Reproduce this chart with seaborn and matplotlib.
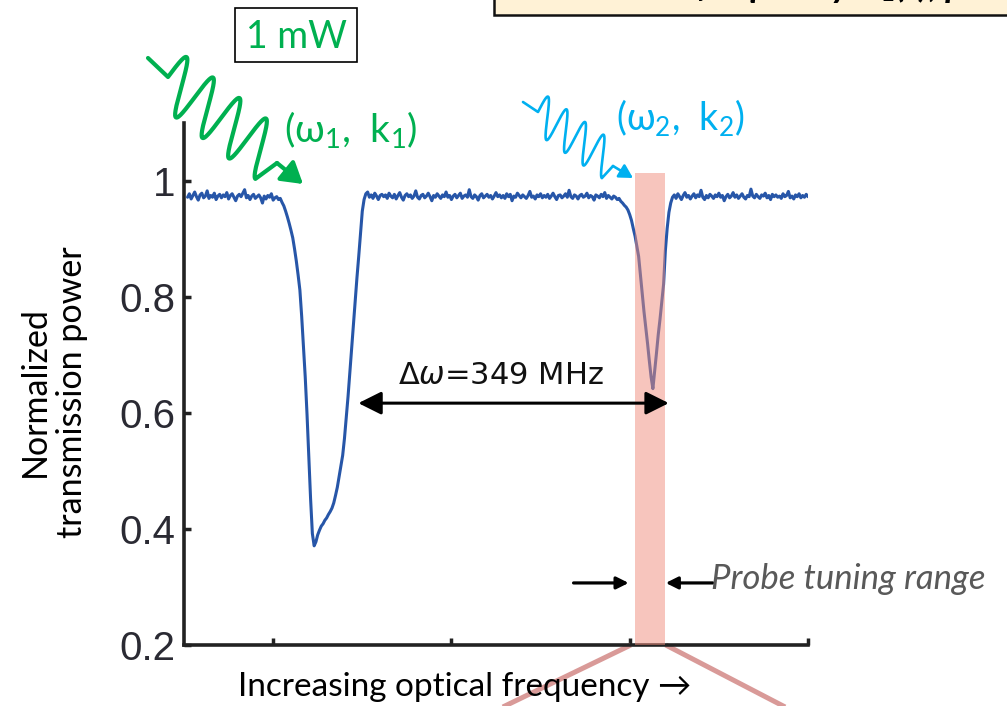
import numpy as np
import pandas as pd
import matplotlib
matplotlib.use("Agg")
import matplotlib.pyplot as plt
from matplotlib.patches import Rectangle, FancyArrowPatch
from matplotlib.lines import Line2D
import seaborn as sns

# ---- measured transmission sweep (arbitrary frequency units) ----
freq_start = -0.48
freq_step = 0.01
transmission = [
    0.972, 0.978, 0.969, 0.975, 0.981, 0.973, 0.967, 0.976, 0.979, 0.971,
    0.974, 0.983, 0.970, 0.975, 0.972, 0.979, 0.968, 0.974, 0.977, 0.971,
    0.976, 0.973, 0.980, 0.969, 0.975, 0.978, 0.972, 0.966, 0.974, 0.977,
    0.973, 0.979, 0.985, 0.971, 0.975, 0.968, 0.974, 0.977, 0.970, 0.973,
    0.976, 0.971, 0.962, 0.974, 0.969, 0.975, 0.972, 0.978, 0.967, 0.971,
    0.973, 0.968, 0.970, 0.963, 0.957, 0.948, 0.938, 0.927, 0.915, 0.902,
    0.883, 0.862, 0.838, 0.812, 0.767, 0.714, 0.662, 0.598, 0.523, 0.452,
    0.392, 0.371, 0.378, 0.390, 0.398, 0.405, 0.409, 0.415, 0.419, 0.425,
    0.430, 0.436, 0.445, 0.458, 0.472, 0.490, 0.508, 0.527, 0.556, 0.592,
    0.628, 0.668, 0.710, 0.752, 0.792, 0.833, 0.870, 0.910, 0.948, 0.968,
    0.978, 0.981, 0.972, 0.976, 0.970, 0.979, 0.974, 0.968, 0.975, 0.977,
    0.973, 0.976, 0.970, 0.979, 0.974, 0.971, 0.977, 0.969, 0.975, 0.980,
    0.972, 0.967, 0.975, 0.978, 0.973, 0.976, 0.970, 0.974, 0.983, 0.972,
    0.969, 0.975, 0.977, 0.971, 0.974, 0.979, 0.973, 0.966, 0.975, 0.972,
    0.978, 0.974, 0.970, 0.976, 0.973, 0.981, 0.972, 0.975, 0.968, 0.974,
    0.977, 0.971, 0.975, 0.979, 0.970, 0.974, 0.976, 0.972, 0.985, 0.973,
    0.970, 0.976, 0.973, 0.967, 0.975, 0.978, 0.971, 0.974, 0.977, 0.972,
    0.975, 0.969, 0.974, 0.980, 0.973, 0.976, 0.971, 0.975, 0.970, 0.978,
    0.973, 0.977, 0.966, 0.974, 0.972, 0.979, 0.975, 0.971, 0.976, 0.973,
    0.970, 0.975, 0.982, 0.972, 0.974, 0.969, 0.976, 0.973, 0.978, 0.971,
    0.975, 0.972, 0.977, 0.970, 0.974, 0.979, 0.973, 0.968, 0.975, 0.976,
    0.971, 0.974, 0.978, 0.972, 0.984, 0.973, 0.970, 0.976, 0.974, 0.969,
    0.975, 0.977, 0.972, 0.974, 0.979, 0.971, 0.975, 0.973, 0.967, 0.976,
    0.974, 0.971, 0.977, 0.973, 0.980, 0.970, 0.975, 0.972, 0.969, 0.974,
    0.972, 0.968, 0.970, 0.965, 0.962, 0.958, 0.955, 0.950, 0.942, 0.932,
    0.918, 0.905, 0.888, 0.870, 0.838, 0.806, 0.775, 0.748, 0.720, 0.690,
    0.662, 0.642, 0.672, 0.703, 0.735, 0.762, 0.792, 0.822, 0.880, 0.918,
    0.946, 0.962, 0.972, 0.976, 0.970, 0.978, 0.973, 0.968, 0.975, 0.980,
    0.972, 0.975, 0.969, 0.974, 0.978, 0.971, 0.976, 0.973, 0.984, 0.972,
    0.968, 0.975, 0.971, 0.977, 0.974, 0.970, 0.976, 0.973, 0.979, 0.972,
    0.975, 0.966, 0.973, 0.977, 0.971, 0.974, 0.980, 0.972, 0.976, 0.970,
    0.974, 0.978, 0.972, 0.969, 0.975, 0.973, 0.986, 0.974, 0.971, 0.977,
    0.973, 0.970, 0.976, 0.974, 0.979, 0.971, 0.975, 0.968, 0.977, 0.973,
    0.976, 0.972, 0.974, 0.970, 0.978, 0.973, 0.975, 0.982, 0.971, 0.974,
    0.969, 0.976, 0.973, 0.978, 0.971, 0.975, 0.972, 0.977, 0.973,
]

y_ticks = [0.2, 0.4, 0.6, 0.8, 1.0]
y_tick_labels = ["0.2", "0.4", "0.6", "0.8", "1"]
x_ticks = [0, 1, 2, 3]
x_limits = (-0.5, 3.0)
y_limits = (0.2, 1.1)

# probe tuning window and resonance splitting annotation
probe_lo, probe_hi, probe_top = 2.03, 2.20, 1.014
split_from, split_to, split_level = 0.478, 2.219, 0.617
split_label = "Δ$\\omega$=349 MHz"
pump_power_label = "1 mW"
pump_label = "(ω$_1$,  k$_1$)"
probe_label = "(ω$_2$,  k$_2$)"
range_label = "Probe tuning range"
x_label = "Increasing optical frequency →"
y_label = "Normalized\ntransmission power"
banner_label = "Probe frequency ω₂(t), power P₂(t), polarization"

freq = np.round(freq_start + freq_step * np.arange(len(transmission)), 3)
df = pd.DataFrame({"freq": freq, "transmission": transmission})

sns.set_theme(style="ticks")
plt.rcParams["font.family"] = ["Lato", "Noto Sans", "DejaVu Sans"]
plt.rcParams["mathtext.fontset"] = "custom"
plt.rcParams["mathtext.rm"] = "Lato"
plt.rcParams["mathtext.it"] = "Lato:italic"

W, H = 1007, 706
fig = plt.figure(figsize=(W / 100, H / 100), dpi=100)
fig.patch.set_facecolor("white")


def P(x, y):
    """pixel position (from top-left) -> figure fraction"""
    return (x / W, 1 - y / H)


ax = fig.add_axes([184 / W, 1 - 645 / H, (808 - 184) / W, (645 - 123) / H])
ax.set_facecolor("none")

TRACE = "#2756A8"
GREEN = "#00B050"
CYAN = "#00B0F0"
PINK = "#F08C7C"
PINK_LINE = "#D99A98"

sns.lineplot(data=df, x="freq", y="transmission", ax=ax, color=TRACE,
             lw=2.2, estimator=None, sort=False, zorder=3)

# probe tuning window
ax.add_patch(Rectangle((probe_lo, y_limits[0]), probe_hi - probe_lo,
                       probe_top - y_limits[0], facecolor=PINK, alpha=0.5,
                       edgecolor="none", zorder=4, clip_on=False))

ax.set_xlim(*x_limits)
ax.set_ylim(*y_limits)
ax.set_xticks(x_ticks)
ax.set_xticklabels([])
ax.set_yticks(y_ticks)
ax.set_yticklabels(y_tick_labels, family=["Liberation Sans", "DejaVu Sans"],
                   fontsize=29, color="#2a2a33")
ax.tick_params(axis="both", direction="in", length=5, width=2.5,
               color="#222222", pad=6)
ax.set_xlabel("")
ax.set_ylabel("")
for side in ("top", "right"):
    ax.spines[side].set_visible(False)
for side in ("left", "bottom"):
    ax.spines[side].set_linewidth(2.6)
    ax.spines[side].set_color("#222222")

# splitting arrow and label
ax.annotate("", xy=(split_to, split_level), xytext=(split_from, split_level),
            arrowprops=dict(arrowstyle="<|-|>,head_length=0.7,head_width=0.35",
                            mutation_scale=20, lw=2.2, color="black",
                            shrinkA=0, shrinkB=0), zorder=5)
fig.text(*P(501, 376), split_label, ha="center", va="center", fontsize=22,
         family=["DejaVu Sans"], math_fontfamily="dejavusans", color="#111111")

# probe tuning range arrows and label
arrow_kw = dict(arrowstyle="-|>,head_length=0.6,head_width=0.3",
                mutation_scale=12, lw=2.3, color="black", shrinkA=0, shrinkB=0)
ax.annotate("", xy=(1.994, 0.307), xytext=(1.685, 0.307), arrowprops=arrow_kw,
            annotation_clip=False)
ax.annotate("", xy=(2.202, 0.307), xytext=(2.466, 0.307), arrowprops=arrow_kw,
            annotation_clip=False)
fig.text(*P(711, 579), range_label, ha="left", va="center", fontsize=25,
         style="italic", color="#595959")

# zoom lines under the axis
for x0, x1 in ((2.006, 1.14), (2.202, 3.01)):
    ax.plot([x0, x1], [0.2, 0.071], color=PINK_LINE, lw=3.6,
            solid_capstyle="butt", clip_on=False, zorder=2)

# axis labels
fig.text(*P(465, 687), x_label, ha="center", va="center", fontsize=24,
         color="black")
fig.text(*P(53, 392), y_label, ha="center", va="center", rotation=90,
         fontsize=24.5, color="black", linespacing=1.2, multialignment="center")


# wavy photon arrows
def photon(lead, c0, step, amp, periods, tail, tip, color, lw, head, scale):
    t = np.linspace(0, periods, 400)
    cx = c0[0] + step[0] * t
    cy = c0[1] + step[1] * t
    s = np.sin(2 * np.pi * t)
    xs = np.concatenate([[lead[0]], cx + amp[0] * s, [tail[0]]])
    ys = np.concatenate([[lead[1]], cy + amp[1] * s, [tail[1]]])
    fig.add_artist(Line2D(xs / W, 1 - ys / H, transform=fig.transFigure,
                          color=color, lw=lw, solid_joinstyle="round",
                          solid_capstyle="round"))
    fig.add_artist(FancyArrowPatch(P(*tail), P(*tip), transform=fig.transFigure,
                                   arrowstyle=f"-|>,head_length={head[0]},head_width={head[1]}",
                                   mutation_scale=scale, lw=lw, color=color,
                                   shrinkA=0, shrinkB=0))


photon((148, 58), (168, 77), (26.5, 20.5), (12, -25), 3.75, (277, 163),
       (303, 184), GREEN, 3.0, (0.9, 0.55), 14)
photon((523, 102), (538, 112), (18.5, 12.7), (5.5, -18.5), 3.75, (613, 166),
       (633, 178), CYAN, 1.9, (0.8, 0.45), 10)

fig.text(*P(284, 129), pump_label, ha="left", va="center", fontsize=28,
         color=GREEN)
fig.text(*P(616, 117), probe_label, ha="left", va="center", fontsize=27,
         color=CYAN)

# pump power box
fig.add_artist(Rectangle(P(235, 62), 122 / W, 54 / H, transform=fig.transFigure,
                         facecolor="white", edgecolor="black", lw=1.2))
fig.text(*P(296, 37), pump_power_label, ha="center", va="center", fontsize=27,
         color=GREEN)

# banner box at the top edge
fig.add_artist(Rectangle(P(494, 15), 600 / W, 40 / H, transform=fig.transFigure,
                         facecolor="#FFF2D6", edgecolor="#111111", lw=1.8))
fig.text(*P(600, -3), banner_label, ha="left", va="baseline", fontsize=26,
         weight="bold", style="italic", color="black")

fig.savefig("out.png", dpi=100, facecolor="white")
